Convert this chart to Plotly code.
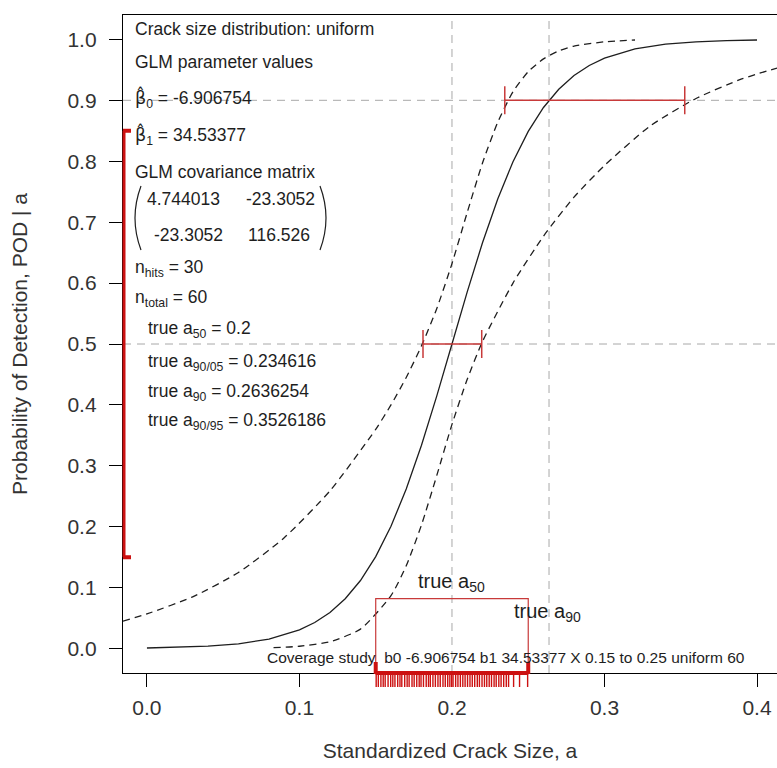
import plotly.graph_objects as go

# ---------------------------------------------------------------- data
# fitted POD curve, logit link: b0 = -6.906754, b1 = 34.53377
crack_size = [0.00, 0.02, 0.04, 0.06, 0.08, 0.10, 0.11, 0.12, 0.13, 0.14, 0.15,
              0.16, 0.17, 0.18, 0.19, 0.20, 0.21, 0.22, 0.23, 0.24, 0.25, 0.26,
              0.27, 0.28, 0.29, 0.30, 0.32, 0.34, 0.36, 0.38, 0.40]
pod_fit = [0.0010, 0.0020, 0.0040, 0.0079, 0.0156, 0.0307, 0.0428, 0.0594, 0.0819,
           0.1118, 0.1510, 0.2008, 0.2619, 0.3339, 0.4145, 0.5000, 0.5855, 0.6661,
           0.7381, 0.7992, 0.8490, 0.8882, 0.9181, 0.9406, 0.9572, 0.9693, 0.9844,
           0.9921, 0.9960, 0.9980, 0.9990]

# upper confidence bound
upper_x = [-0.0157, 0.00, 0.03, 0.06, 0.09, 0.12, 0.15, 0.16, 0.17, 0.18, 0.19,
           0.20, 0.21, 0.22, 0.23, 0.24, 0.25, 0.26, 0.27, 0.28, 0.30, 0.32]
upper_pod = [0.045, 0.057, 0.085, 0.125, 0.182, 0.259, 0.360, 0.400, 0.445, 0.497,
             0.558, 0.632, 0.716, 0.797, 0.864, 0.914, 0.947, 0.968, 0.981, 0.989,
             0.996, 0.999]

# lower confidence bound
lower_x = [0.083, 0.10, 0.12, 0.14, 0.16, 0.17, 0.18, 0.19, 0.20, 0.21, 0.22,
           0.24, 0.26, 0.28, 0.30, 0.33, 0.36, 0.39, 0.4131]
lower_pod = [0.0015, 0.0039, 0.0113, 0.032, 0.087, 0.136, 0.203, 0.284, 0.368,
             0.442, 0.504, 0.600, 0.677, 0.741, 0.793, 0.858, 0.903, 0.935, 0.953]

# key crack sizes
a50 = 0.2
a50_lo, a50_hi = 0.181, 0.2195
a90 = 0.2636254
a90_05 = 0.234616
a90_95 = 0.3526186
ref_pod = [0.5, 0.9]

# sampled crack sizes (uniform 0.15 .. 0.25, n = 60)
x_range = [0.15, 0.25]
pod_range = [0.15, 0.85]
samples = [0.1503, 0.1517, 0.1534, 0.1549, 0.1562, 0.1581, 0.1598, 0.1612, 0.1626, 0.1644,
           0.1659, 0.1671, 0.1690, 0.1706, 0.1719, 0.1738, 0.1752, 0.1769, 0.1785, 0.1797,
           0.1813, 0.1831, 0.1846, 0.1858, 0.1875, 0.1891, 0.1908, 0.1923, 0.1941, 0.1956,
           0.1972, 0.1986, 0.1998, 0.2007, 0.2024, 0.2039, 0.2055, 0.2071, 0.2086, 0.2102,
           0.2118, 0.2133, 0.2149, 0.2166, 0.2180, 0.2197, 0.2213, 0.2228, 0.2244, 0.2259,
           0.2276, 0.2290, 0.2307, 0.2322, 0.2339, 0.2356, 0.2371, 0.2404, 0.2443, 0.2496]

x_ticks = [0.0, 0.1, 0.2, 0.3, 0.4]
y_ticks = [0.0, 0.1, 0.2, 0.3, 0.4, 0.5, 0.6, 0.7, 0.8, 0.9, 1.0]

# ---------------------------------------------------------------- layout helpers
W, H = 777, 768
ML, MR, MT, MB = 123, 0, 15, 95
PW, PH = W - ML - MR, H - MT - MB
FONT = "Liberation Sans, Arial, sans-serif"
INK = "#1e1e1e"
RED = "#c83a3a"
DARKRED = "#cc1111"


def px(x):
    return (x - ML) / PW


def py(y):
    return (H - MB - y) / PH


fig = go.Figure()

# confidence bounds
fig.add_trace(go.Scatter(x=upper_x, y=upper_pod, mode="lines",
                         line=dict(color=INK, width=1.3, dash="7px,5px", shape="spline", smoothing=0.6),
                         hoverinfo="skip"))
fig.add_trace(go.Scatter(x=lower_x, y=lower_pod, mode="lines",
                         line=dict(color=INK, width=1.3, dash="7px,5px", shape="spline", smoothing=0.6),
                         hoverinfo="skip"))
# fitted curve
fig.add_trace(go.Scatter(x=crack_size, y=pod_fit, mode="lines",
                         line=dict(color=INK, width=1.3), hoverinfo="skip"))

# interval bars at POD = 0.5 and 0.9
fig.add_trace(go.Scatter(x=[a50], y=[ref_pod[0]], mode="markers",
                         marker=dict(size=1, color="rgba(0,0,0,0)"),
                         error_x=dict(type="data", symmetric=False,
                                      array=[a50_hi - a50], arrayminus=[a50 - a50_lo],
                                      color=RED, thickness=1.5, width=14)))
fig.add_trace(go.Scatter(x=[a90], y=[ref_pod[1]], mode="markers",
                         marker=dict(size=1, color="rgba(0,0,0,0)"),
                         error_x=dict(type="data", symmetric=False,
                                      array=[a90_95 - a90], arrayminus=[a90 - a90_05],
                                      color=RED, thickness=1.5, width=14)))

shapes = []
# reference lines
for v in ref_pod:
    shapes.append(dict(type="line", xref="paper", yref="y", x0=0, x1=1, y0=v, y1=v,
                       line=dict(color="#a8a8a8", width=1, dash="8px,6px"), layer="below"))
for v in [a50, a90]:
    shapes.append(dict(type="line", xref="x", yref="paper", x0=v, x1=v, y0=0, y1=1,
                       line=dict(color="#a8a8a8", width=1, dash="8px,6px"), layer="below"))

# rug of sampled crack sizes, hanging below the frame
for s in samples:
    shapes.append(dict(type="line", xref="x", yref="paper", x0=s, x1=s,
                       y0=0, y1=py(687), line=dict(color=DARKRED, width=1.4)))

# sampling window box
shapes.append(dict(type="rect", xref="x", yref="y", x0=x_range[0], x1=x_range[1],
                   y0=-0.04, y1=0.082, line=dict(color=RED, width=1.2)))
shapes.append(dict(type="line", xref="x", yref="paper", x0=x_range[0], x1=x_range[1],
                   y0=0, y1=0, line=dict(color=DARKRED, width=4)))
for v in x_range:
    shapes.append(dict(type="line", xref="x", yref="paper", x0=v, x1=v,
                       y0=py(674), y1=py(662), line=dict(color=DARKRED, width=4)))

# POD range bar on the left edge
shapes.append(dict(type="line", xref="paper", yref="y", x0=px(124), x1=px(124),
                   y0=pod_range[0], y1=pod_range[1], line=dict(color=DARKRED, width=3)))
for v in pod_range:
    shapes.append(dict(type="line", xref="paper", yref="y", x0=px(123), x1=px(131),
                       y0=v, y1=v, line=dict(color=DARKRED, width=4)))


# matrix brackets
def bracket(xe, xc, y0, y1):
    return (f"M {px(xe)},{py(y0)} Q {px(xc)},{py((y0 + y1) / 2)} {px(xe)},{py(y1)}")


shapes.append(dict(type="path", xref="paper", yref="paper",
                   path=bracket(141, 129, 186, 250), line=dict(color=INK, width=1.2)))
shapes.append(dict(type="path", xref="paper", yref="paper",
                   path=bracket(320, 332, 186, 250), line=dict(color=INK, width=1.2)))

annotations = []


def note(text, x, y, size=17.5, anchor="left"):
    annotations.append(dict(text=text, xref="paper", yref="paper", x=px(x), y=py(y),
                            xanchor=anchor, yanchor="middle", showarrow=False,
                            font=dict(family=FONT, size=size, color=INK)))


BETA_HAT = "<span style='font-family:DejaVu Sans'>\u03b2\u0302</span>"

note("Crack size distribution: uniform", 133, 29)
note("GLM parameter values", 133, 62)
note(BETA_HAT + "<sub>0</sub> = -6.906754", 133, 98)
note(BETA_HAT + "<sub>1</sub> = 34.53377", 133, 135)
note("GLM covariance matrix", 133, 172)
note("4.744013", 145, 199)
note("-23.3052", 317, 199, anchor="right")
note("-23.3052", 152, 235)
note("116.526", 312, 235, anchor="right")
note("n<sub>hits</sub> = 30", 133, 268)
note("n<sub>total</sub> = 60", 133, 298)
note("true a<sub>50</sub> = 0.2", 146, 329)
note("true a<sub>90/05</sub> = 0.234616", 146, 362)
note("true a<sub>90</sub> = 0.2636254", 146, 392)
note("true a<sub>90/95</sub> = 0.3526186", 146, 422)
note("true a<sub>50</sub>", 416, 582, size=20)
note("true a<sub>90</sub>", 512, 612, size=20)
note("Coverage study  b0 -6.906754 b1 34.53377 X 0.15 to 0.25 uniform 60", 265, 657, size=15.5)

axis_common = dict(showgrid=False, zeroline=False, showline=True, linecolor="black",
                   linewidth=1.3, ticks="outside", ticklen=13, tickwidth=1.3,
                   tickcolor="black", tickfont=dict(family=FONT, size=21, color="#333"))

fig.update_layout(
    width=W, height=H,
    margin=dict(l=ML, r=MR, t=MT, b=MB, pad=0),
    paper_bgcolor="white", plot_bgcolor="white",
    showlegend=False,
    shapes=shapes, annotations=annotations,
    xaxis=dict(range=[-0.0157, 0.4131], tickvals=x_ticks,
               ticktext=[f"{v:.1f}" for v in x_ticks], mirror=True,
               ticklabelstandoff=3,
               title=dict(text="Standardized Crack Size, a",
                          font=dict(family=FONT, size=21, color="#333"), standoff=24),
               **axis_common),
    yaxis=dict(range=[-0.04, 1.04], tickvals=y_ticks,
               ticktext=[f"{v:.1f}" for v in y_ticks], mirror=False,
               ticklabelstandoff=8,
               title=dict(text="Probability of Detection, POD | a",
                          font=dict(family=FONT, size=21, color="#333"), standoff=34),
               **axis_common),
)

fig.write_html("out.html")
